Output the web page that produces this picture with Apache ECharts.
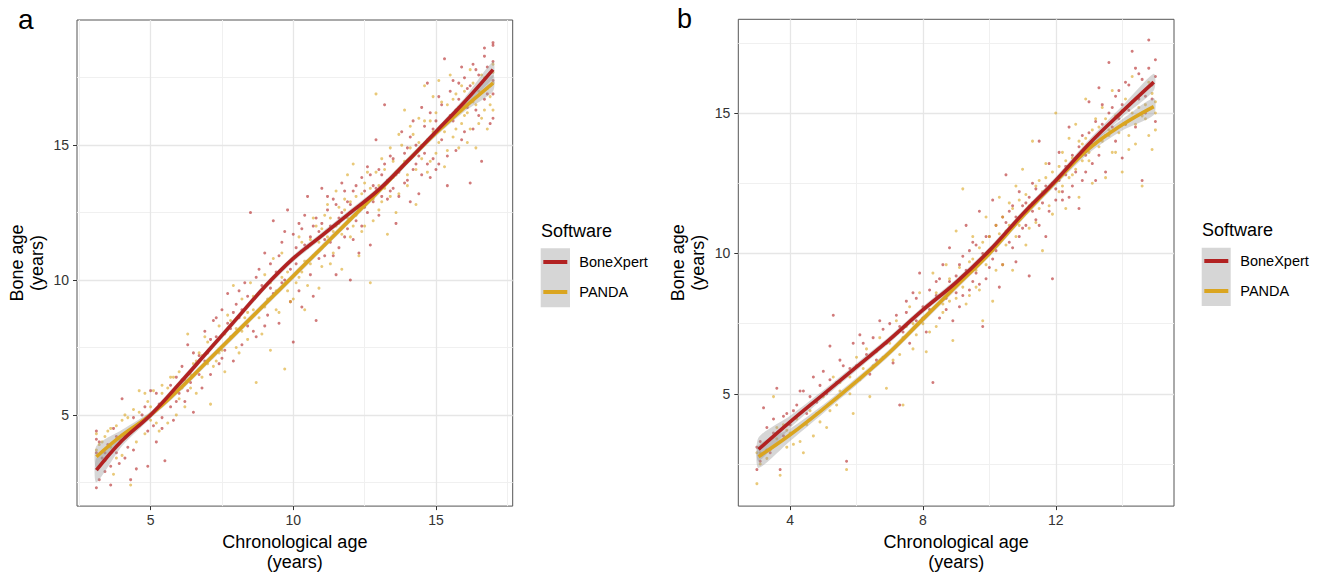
<!DOCTYPE html>
<html>
<head>
<meta charset="utf-8">
<script src="https://cdn.jsdelivr.net/npm/echarts@6/dist/echarts.min.js"></script>
<style>
html,body{margin:0;padding:0;background:#fff;}
#chart{width:1324px;height:577px;}
</style>
</head>
<body>
<div id="chart"></div>
<script>
// ---------- DATA ----------
const seriesNames = ['BoneXpert', 'PANDA'];
const panelLabels = ['a', 'b'];
const legendTitle = 'Software';
const xAxisTitle = 'Chronological age\n(years)';
const yAxisTitle = 'Bone age\n(years)';

// Panel a ticks
const aXTicks = [5, 10, 15];
const aXMinor = [2.5, 7.5, 12.5, 17.5];
const aYTicks = [5, 10, 15];
const aYMinor = [2.5, 7.5, 12.5, 17.5];
// Panel b ticks
const bXTicks = [4, 8, 12];
const bXMinor = [6, 10, 14];
const bYTicks = [5, 10, 15];
const bYMinor = [2.5, 7.5, 12.5, 17.5];

// Panel a scatter points [chronological age, bone age]
const aBoneXpertPts = [[3.1,2.3],[3.1,4.4],[3.1,4.1],[3.2,2.6],[3.3,3.4],[3.4,2.9],[3.5,3.9],[3.6,2.4],[3.7,4.5],[3.8,3.6],[3.9,3.2],[4.0,5.6],[4.1,4.2],[4.2,3.8],[4.3,2.6],[4.4,4.9],[4.5,3.0],[4.6,4.6],[4.8,5.3],[4.9,4.4],[5.0,5.9],[5.1,4.6],[5.2,4.0],[5.3,5.4],[5.4,4.9],[5.5,3.3],[5.6,5.6],[5.7,6.1],[5.8,4.8],[5.9,6.4],[6.0,5.8],[6.1,6.8],[6.2,5.5],[6.3,7.6],[6.4,6.2],[6.5,5.1],[6.6,6.9],[6.7,7.2],[6.8,6.0],[6.9,8.1],[7.0,7.3],[7.1,6.5],[7.2,8.5],[7.3,7.9],[7.4,6.9],[7.5,8.9],[7.6,7.4],[7.7,9.5],[7.8,8.2],[7.9,7.0],[8.0,9.1],[8.1,8.6],[8.2,7.6],[8.3,9.9],[8.4,8.3],[8.5,12.5],[8.6,9.3],[8.7,7.9],[8.8,10.4],[8.9,9.0],[9.0,11.0],[9.1,8.7],[9.2,9.7],[9.3,12.2],[9.4,10.3],[9.5,8.4],[9.6,11.4],[9.7,10.0],[9.8,12.6],[9.9,9.2],[10.0,11.7],[10.0,7.7],[10.1,10.6],[10.2,12.1],[10.3,9.0],[10.4,11.3],[10.5,13.1],[10.6,10.2],[10.7,12.0],[10.8,8.5],[10.9,11.8],[11.0,13.4],[11.1,10.9],[11.2,12.6],[11.3,11.4],[11.4,13.0],[11.5,10.2],[11.6,12.3],[11.7,13.6],[11.8,11.6],[11.9,12.9],[12.0,10.0],[12.1,13.3],[12.2,12.2],[12.3,11.0],[12.4,13.8],[12.5,12.7],[12.6,14.2],[12.7,11.3],[12.8,13.5],[12.9,15.2],[13.0,12.4],[13.1,13.9],[13.2,16.5],[13.3,13.0],[13.4,14.6],[13.5,13.4],[13.6,12.1],[13.7,14.0],[13.8,15.5],[13.9,13.6],[14.0,14.9],[14.1,12.9],[14.2,15.9],[14.3,14.3],[14.4,13.2],[14.5,16.4],[14.6,14.7],[14.7,17.3],[14.8,13.8],[14.9,15.6],[15.0,14.1],[15.1,16.8],[15.2,15.2],[15.3,18.2],[15.4,13.5],[15.5,16.1],[15.6,17.4],[15.7,14.8],[15.8,16.7],[15.9,17.9],[16.0,15.5],[16.1,17.1],[16.2,13.6],[16.3,18.0],[16.4,16.3],[16.5,17.6],[16.6,14.4],[16.7,18.3],[16.8,16.9],[16.9,15.8],[17.0,18.7],[17.0,16.0],[17.0,17.4],
  [3.1,3.6],[3.2,4.0],[3.4,3.6],[3.6,3.1],[3.8,4.2],[4.1,3.4],[4.4,3.7],[4.7,5.0],[4.9,3.1],[5.2,5.8],[5.4,4.5],[5.7,5.3],[5.9,5.5],[6.1,6.3],[6.3,5.9],[6.5,7.3],[6.7,6.5],[6.9,7.0],[7.1,7.8],[7.3,8.6],[7.5,7.1],[7.7,8.4],[7.9,8.8],[8.1,9.6],[8.2,8.9],[8.4,9.4],[8.6,8.1],[8.7,10.1],[8.9,9.8],[9.0,8.3],[9.2,10.6],[9.3,9.5],[9.5,10.9],[9.6,9.9],[9.7,11.8],[9.9,10.4],[10.1,11.2],[10.2,9.6],[10.3,11.9],[10.4,12.4],[10.5,10.7],[10.6,11.6],[10.7,9.4],[10.8,12.3],[10.9,10.8],[11.0,12.1],[11.1,11.5],[11.2,13.1],[11.3,12.0],[11.4,10.9],[11.5,12.8],[11.6,11.2],[11.7,12.5],[11.8,13.3],[11.9,11.9],[12.0,12.8],[12.1,11.5],[12.2,13.5],[12.3,12.6],[12.4,12.0],[12.5,13.3],[12.6,12.5],[12.7,13.9],[12.8,12.9],[12.9,13.4],[13.0,14.1],[13.1,13.1],[13.2,14.3],[13.3,13.7],[13.4,13.3],[13.5,14.5],[13.6,13.9],[13.7,13.1],[13.8,14.2],[13.9,14.7],[14.0,13.7],[14.1,15.3],[14.2,14.1],[14.3,15.0],[14.4,14.6],[14.5,13.9],[14.6,15.7],[14.7,14.3],[14.8,16.2],[14.9,14.5],[15.0,15.9],[15.1,14.3],[15.2,16.5],[15.3,15.8],[15.4,14.6],[15.5,17.0],[15.6,15.9],[15.7,16.3],[15.8,17.3],[15.9,15.2],[16.0,17.5],[16.1,16.4],[16.2,17.2],[16.3,15.6],[16.4,17.8],[16.5,16.1],[16.6,17.3],[16.7,16.7],[16.8,17.9],[16.9,17.2],[17.0,16.9],[17.0,18.1],[16.7,18.6],[17.0,18.8]];
const aPandaPts = [[3.1,3.7],[3.1,4.3],[3.2,3.1],[3.3,4.0],[3.4,3.3],[3.5,4.4],[3.6,3.8],[3.7,2.8],[3.8,4.6],[3.9,4.1],[4.0,3.5],[4.1,5.0],[4.2,4.4],[4.3,2.4],[4.4,5.2],[4.5,4.0],[4.6,5.9],[4.7,4.7],[4.8,4.3],[4.9,5.5],[5.0,4.8],[5.1,5.9],[5.2,5.2],[5.3,4.4],[5.4,6.1],[5.5,5.5],[5.6,4.7],[5.7,6.4],[5.8,5.9],[5.9,5.0],[6.0,6.6],[6.1,6.0],[6.2,5.3],[6.3,8.0],[6.4,6.5],[6.5,6.9],[6.6,5.8],[6.7,7.3],[6.8,6.4],[6.9,7.9],[7.0,6.9],[7.1,5.4],[7.2,7.6],[7.3,7.0],[7.4,8.3],[7.5,7.4],[7.6,6.6],[7.7,8.7],[7.8,7.9],[7.9,9.8],[8.0,8.2],[8.1,7.3],[8.2,9.3],[8.3,8.6],[8.4,7.8],[8.5,9.9],[8.6,8.9],[8.7,6.2],[8.8,9.5],[8.9,8.0],[9.0,10.2],[9.1,9.3],[9.2,7.4],[9.3,10.8],[9.4,9.6],[9.5,8.8],[9.6,11.0],[9.7,6.7],[9.8,10.3],[9.9,9.2],[10.0,10.8],[10.1,9.9],[10.2,11.6],[10.3,10.3],[10.4,8.9],[10.5,11.2],[10.6,10.6],[10.7,12.3],[10.8,11.0],[10.9,9.7],[11.0,11.9],[11.1,11.3],[11.2,12.8],[11.3,10.6],[11.4,11.8],[11.5,13.3],[11.6,12.1],[11.7,10.4],[11.8,12.6],[11.9,13.9],[12.0,11.6],[12.1,14.3],[12.2,12.4],[12.3,10.9],[12.4,13.2],[12.5,12.0],[12.6,14.0],[12.7,9.9],[12.8,13.0],[12.9,16.9],[13.0,12.6],[13.1,14.5],[13.2,13.4],[13.3,11.7],[13.4,14.9],[13.5,13.8],[13.6,12.5],[13.7,15.4],[13.8,14.2],[13.9,16.3],[14.0,13.5],[14.1,15.7],[14.2,14.6],[14.3,12.8],[14.4,16.0],[14.5,15.0],[14.6,17.2],[14.7,14.0],[14.8,15.9],[14.9,16.8],[15.0,14.7],[15.1,17.4],[15.2,15.7],[15.3,14.2],[15.4,16.5],[15.5,17.6],[15.6,15.3],[15.7,16.9],[15.8,14.9],[15.9,17.2],[16.0,16.1],[16.1,15.1],[16.2,17.8],[16.3,16.6],[16.4,14.9],[16.5,17.0],[16.6,16.0],[16.7,17.5],[16.8,15.6],[16.9,16.8],[17.0,17.3],[17.0,16.3],[17.0,18.0],
  [3.2,3.9],[3.4,4.2],[3.6,4.5],[3.8,3.4],[4.0,4.8],[4.2,4.9],[4.4,4.5],[4.6,5.1],[4.8,5.8],[5.0,5.3],[5.2,4.7],[5.4,5.8],[5.6,6.0],[5.8,6.4],[6.0,5.6],[6.2,6.3],[6.4,6.0],[6.6,7.0],[6.8,7.2],[7.0,7.7],[7.2,6.8],[7.4,7.3],[7.6,8.0],[7.8,8.5],[8.0,7.5],[8.2,8.1],[8.4,8.8],[8.6,9.4],[8.8,8.6],[9.0,9.0],[9.2,9.9],[9.4,8.9],[9.6,10.1],[9.8,9.6],[10.0,9.3],[10.1,10.9],[10.2,10.1],[10.3,11.4],[10.4,10.7],[10.5,9.8],[10.6,11.5],[10.7,10.9],[10.8,12.0],[10.9,11.4],[11.0,10.5],[11.1,12.4],[11.2,11.6],[11.3,12.3],[11.4,11.0],[11.5,12.0],[11.6,12.7],[11.7,11.7],[11.8,13.0],[11.9,12.3],[12.0,12.9],[12.1,12.0],[12.2,13.1],[12.3,12.6],[12.4,11.8],[12.5,13.6],[12.6,12.9],[12.7,13.4],[12.8,12.2],[12.9,14.0],[13.0,13.5],[13.1,12.9],[13.2,14.1],[13.3,13.6],[13.4,13.1],[13.5,14.4],[13.6,14.0],[13.7,13.2],[13.8,15.0],[13.9,14.4],[14.0,13.9],[14.1,14.9],[14.2,15.4],[14.3,14.1],[14.4,15.1],[14.5,14.5],[14.6,15.9],[14.7,15.2],[14.8,14.4],[14.9,15.5],[15.0,16.2],[15.1,15.1],[15.2,16.6],[15.3,15.5],[15.4,14.8],[15.5,16.0],[15.6,16.7],[15.7,15.6],[15.8,16.4],[15.9,15.8],[16.0,17.0],[16.1,16.2],[16.2,15.6],[16.3,17.3],[16.4,16.5],[16.5,15.8],[16.6,17.6],[16.7,16.3],[16.8,17.1],[16.9,16.5],[17.0,17.7]];

// Panel b scatter points
const bBoneXpertPts = [[3.0,2.3],[3.0,3.1],[3.1,2.6],[3.2,4.5],[3.3,3.8],[3.4,2.9],[3.5,4.1],[3.6,5.2],[3.7,2.3],[3.8,3.5],[3.9,4.3],[4.0,3.9],[4.2,4.6],[4.4,5.1],[4.5,4.3],[4.7,5.6],[4.8,4.7],[5.0,5.8],[5.1,5.0],[5.2,6.7],[5.3,7.8],[5.4,5.4],[5.5,6.2],[5.7,2.6],[5.8,5.9],[5.9,6.8],[6.0,6.0],[6.1,7.1],[6.3,6.4],[6.4,5.7],[6.5,7.0],[6.6,6.2],[6.7,7.6],[6.9,6.8],[7.0,7.5],[7.1,6.1],[7.2,7.8],[7.3,4.6],[7.4,7.2],[7.5,8.3],[7.6,6.8],[7.7,8.6],[7.8,7.6],[7.9,9.3],[8.0,8.1],[8.1,7.2],[8.2,8.7],[8.3,5.4],[8.4,9.0],[8.5,7.7],[8.6,9.6],[8.7,8.4],[8.8,10.2],[8.9,7.6],[9.0,9.2],[9.1,8.1],[9.2,9.9],[9.3,11.0],[9.4,8.7],[9.5,10.4],[9.6,9.3],[9.7,11.5],[9.8,7.4],[9.9,10.6],[10.0,9.5],[10.1,11.9],[10.2,10.1],[10.3,8.8],[10.4,11.3],[10.5,12.8],[10.6,10.4],[10.7,11.7],[10.8,9.7],[10.9,12.2],[11.0,10.9],[11.1,11.8],[11.2,9.2],[11.3,12.5],[11.4,11.2],[11.5,14.0],[11.6,12.1],[11.7,10.6],[11.8,13.2],[11.9,9.1],[12.0,12.3],[12.1,13.6],[12.2,11.9],[12.3,12.8],[12.4,14.5],[12.5,12.4],[12.6,13.4],[12.7,11.6],[12.8,14.2],[12.9,12.9],[13.0,15.4],[13.1,13.9],[13.2,12.6],[13.3,15.9],[13.4,14.6],[13.5,12.9],[13.6,16.8],[13.7,15.2],[13.8,14.0],[13.9,15.8],[14.0,13.4],[14.1,16.1],[14.2,15.1],[14.3,17.2],[14.4,14.5],[14.5,16.4],[14.6,12.6],[14.7,15.6],[14.8,17.6],[14.9,16.0],[15.0,14.7],[15.0,16.9],
  [3.1,3.3],[3.3,3.0],[3.5,3.6],[3.8,4.2],[4.1,4.4],[4.3,5.1],[4.6,4.9],[4.9,5.3],[5.2,5.5],[5.6,6.0],[6.2,6.8],[6.8,7.3],[7.3,7.4],[7.5,7.9],[7.8,8.4],[8.0,7.7],[8.2,8.0],[8.4,8.5],[8.5,9.1],[8.7,8.0],[8.8,9.0],[9.0,8.6],[9.1,9.6],[9.2,8.5],[9.3,9.4],[9.4,10.1],[9.5,9.0],[9.6,10.3],[9.7,8.9],[9.8,10.0],[9.9,9.1],[10.0,10.6],[10.1,9.8],[10.2,11.0],[10.3,10.4],[10.4,9.6],[10.5,11.1],[10.6,11.5],[10.7,10.2],[10.8,11.3],[10.9,10.6],[11.0,11.7],[11.1,11.0],[11.2,12.0],[11.3,11.5],[11.4,12.3],[11.5,11.0],[11.6,11.8],[11.7,12.4],[11.8,11.5],[11.9,12.5],[12.0,11.9],[12.1,12.6],[12.2,12.2],[12.3,13.1],[12.4,12.0],[12.5,13.5],[12.6,12.9],[12.7,13.8],[12.8,12.6],[12.9,13.5],[13.0,14.3],[13.1,13.2],[13.2,14.7],[13.3,13.5],[13.4,15.3],[13.5,14.2],[13.6,15.0],[13.7,14.5],[13.8,15.6],[13.9,14.8],[14.0,15.3],[14.1,14.6],[14.2,16.0],[14.3,15.4],[14.4,16.6],[14.5,15.5],[14.6,16.2],[14.7,15.0],[14.8,16.6],[14.9,15.5],[15.0,16.3]];
const bPandaPts = [[3.0,1.8],[3.0,2.9],[3.1,2.5],[3.2,3.2],[3.3,2.7],[3.5,4.9],[3.6,3.4],[3.7,2.1],[3.8,3.9],[3.9,3.1],[4.0,3.6],[4.2,4.1],[4.3,3.3],[4.4,2.9],[4.6,4.4],[4.7,3.5],[4.9,4.0],[5.0,4.9],[5.1,3.8],[5.3,5.6],[5.4,4.6],[5.5,5.1],[5.7,2.3],[5.8,5.6],[5.9,4.3],[6.0,6.3],[6.1,5.5],[6.3,6.6],[6.4,4.9],[6.5,6.0],[6.7,7.0],[6.8,6.3],[6.9,5.2],[7.0,6.8],[7.2,7.6],[7.3,6.4],[7.4,4.6],[7.5,7.4],[7.6,8.1],[7.7,6.6],[7.8,7.1],[7.9,8.6],[8.0,7.5],[8.1,6.5],[8.2,8.2],[8.3,9.3],[8.4,7.4],[8.5,8.5],[8.6,7.9],[8.7,9.6],[8.8,8.3],[8.9,6.9],[9.0,10.8],[9.1,9.0],[9.2,12.3],[9.3,8.2],[9.4,9.7],[9.5,10.6],[9.6,8.8],[9.7,10.2],[9.8,7.6],[9.9,11.3],[10.0,10.0],[10.1,8.3],[10.2,11.0],[10.3,12.0],[10.4,9.6],[10.5,10.8],[10.6,11.8],[10.7,9.4],[10.8,12.4],[10.9,11.0],[11.0,13.0],[11.1,10.3],[11.2,11.7],[11.3,14.0],[11.4,11.1],[11.5,12.6],[11.6,10.1],[11.7,13.2],[11.8,11.7],[11.9,12.9],[12.0,15.0],[12.1,12.2],[12.2,13.6],[12.3,11.6],[12.4,14.1],[12.5,12.8],[12.6,14.6],[12.7,12.0],[12.8,13.9],[12.9,15.5],[13.0,13.3],[13.1,12.5],[13.2,14.8],[13.3,13.8],[13.4,15.2],[13.5,12.7],[13.6,14.4],[13.7,15.8],[13.8,13.6],[13.9,14.9],[14.0,12.9],[14.1,15.5],[14.2,14.2],[14.3,16.3],[14.4,13.9],[14.5,15.2],[14.6,12.4],[14.7,14.8],[14.8,16.1],[14.9,13.7],[15.0,15.4],[15.0,14.4],
  [3.1,2.9],[3.4,3.0],[3.6,3.8],[3.9,3.7],[4.1,3.2],[4.5,3.9],[4.8,4.3],[5.2,4.4],[5.5,5.4],[5.8,5.0],[6.2,5.9],[6.6,6.5],[7.1,6.2],[7.4,7.0],[7.7,7.5],[8.0,8.0],[8.2,7.2],[8.4,8.6],[8.6,8.2],[8.8,9.1],[9.0,8.4],[9.1,9.5],[9.2,8.8],[9.3,9.3],[9.4,8.5],[9.5,9.8],[9.6,9.4],[9.7,8.7],[9.8,10.4],[9.9,9.6],[10.0,10.6],[10.1,10.1],[10.2,9.4],[10.3,10.7],[10.4,11.3],[10.5,10.3],[10.6,11.0],[10.7,11.6],[10.8,10.6],[10.9,11.9],[11.0,11.4],[11.1,12.1],[11.2,10.9],[11.3,11.8],[11.4,12.4],[11.5,11.6],[11.6,12.2],[11.7,12.7],[11.8,12.3],[11.9,11.4],[12.0,12.6],[12.1,13.1],[12.2,12.4],[12.3,13.3],[12.4,12.7],[12.5,13.4],[12.6,13.0],[12.7,14.0],[12.8,13.3],[12.9,14.1],[13.0,13.6],[13.1,14.4],[13.2,13.9],[13.3,14.5],[13.4,14.0],[13.5,14.8],[13.6,14.2],[13.7,13.6],[13.8,14.9],[13.9,14.3],[14.0,15.1],[14.1,14.6],[14.2,13.7],[14.3,15.0],[14.4,14.6],[14.5,15.6],[14.6,14.9],[14.7,15.3],[14.8,14.2],[14.9,15.7],[15.0,15.0]];

// Smoothed fits with confidence band
const aFitX = [3.1, 4, 5, 6, 7, 8, 9, 10, 11, 12, 13, 14, 15, 16, 17];
const aBoneXpertFit = [2.95, 4.05, 5.0, 6.15, 7.35, 8.55, 9.75, 10.8, 11.65, 12.5, 13.35, 14.4, 15.5, 16.6, 17.8];
const aBoneXpertLo  = [2.5, 3.85, 4.88, 6.03, 7.23, 8.43, 9.63, 10.68, 11.53, 12.38, 13.23, 14.28, 15.38, 16.45, 17.5];
const aBoneXpertHi  = [3.4, 4.25, 5.12, 6.27, 7.47, 8.67, 9.87, 10.92, 11.77, 12.62, 13.47, 14.52, 15.62, 16.75, 18.1];
const aPandaFit = [3.45, 4.25, 5.0, 5.95, 7.0, 8.05, 9.1, 10.15, 11.2, 12.25, 13.3, 14.4, 15.45, 16.4, 17.3];
const aPandaLo  = [3.05, 4.05, 4.88, 5.83, 6.88, 7.93, 8.98, 10.03, 11.08, 12.13, 13.18, 14.28, 15.33, 16.25, 17.0];
const aPandaHi  = [3.85, 4.45, 5.12, 6.07, 7.12, 8.17, 9.22, 10.27, 11.32, 12.37, 13.42, 14.52, 15.57, 16.55, 17.6];

const bFitX = [3.05, 4, 5, 6, 7, 8, 9, 10, 11, 12, 13, 14, 14.95];
const bBoneXpertFit = [3.02, 4.0, 4.98, 5.96, 6.94, 7.99, 8.97, 10.1, 11.4, 12.6, 13.9, 15.05, 16.1];
const bBoneXpertLo  = [2.6, 3.78, 4.83, 5.83, 6.82, 7.87, 8.85, 9.98, 11.28, 12.47, 13.75, 14.85, 15.8];
const bBoneXpertHi  = [3.44, 4.22, 5.13, 6.09, 7.06, 8.11, 9.09, 10.22, 11.52, 12.73, 14.05, 15.25, 16.4];
const bPandaFit = [2.76, 3.54, 4.46, 5.44, 6.48, 7.66, 8.83, 10.0, 11.32, 12.56, 13.73, 14.58, 15.23];
const bPandaLo  = [2.36, 3.32, 4.31, 5.31, 6.36, 7.54, 8.71, 9.88, 11.2, 12.43, 13.58, 14.38, 14.93];
const bPandaHi  = [3.16, 3.76, 4.61, 5.57, 6.6, 7.78, 8.95, 10.12, 11.44, 12.69, 13.88, 14.78, 15.53];

// ---------- CHART ----------
const RED = '#B22222', GOLD = '#DAA520';
const FONT = '"Liberation Sans", Arial, Helvetica, sans-serif';
const chart = echarts.init(document.getElementById('chart'), null, {renderer: 'svg'});

const zip = (xs, ys) => xs.map((x, i) => [x, ys[i]]);

function mainAxis(dim, idx, min, max, ticks, name, gap) {
  return {
    type: 'value', gridIndex: idx, min: min, max: max,
    name: name, nameLocation: 'middle', nameGap: gap,
    nameTextStyle: {fontSize: 18, lineHeight: 20, color: '#000', fontFamily: FONT},
    axisLine: {show: false},
    axisTick: {show: true, length: 4, lineStyle: {color: '#333', width: 1}, customValues: ticks},
    axisLabel: {show: true, fontSize: 14, color: '#333', fontFamily: FONT, margin: dim === 'x' ? 7 : 8, customValues: ticks},
    splitLine: {show: true, lineStyle: {color: '#e6e6e6', width: 1.3}},
    z: 1
  };
}
function minorAxis(idx, min, max, ticks) {
  return {
    type: 'value', gridIndex: idx, min: min, max: max,
    axisLine: {show: false}, axisLabel: {show: false},
    axisTick: {show: false, customValues: ticks},
    splitLine: {show: true, lineStyle: {color: '#f0f0f0', width: 1}},
    z: 0
  };
}

function band(xi, yi, xs, lo, hi) {
  return {
    type: 'custom', xAxisIndex: xi, yAxisIndex: yi, silent: true, z: 3,
    data: [[xs[0], lo[0]]],
    renderItem: function (params, api) {
      const pts = [];
      for (let i = 0; i < xs.length; i++) pts.push(api.coord([xs[i], hi[i]]));
      for (let i = xs.length - 1; i >= 0; i--) pts.push(api.coord([xs[i], lo[i]]));
      return {type: 'polygon', shape: {points: pts, smooth: 0.25},
              style: {fill: 'rgba(153,153,153,0.4)', stroke: null}};
    }
  };
}
function pts(name, xi, yi, data, color) {
  return {type: 'scatter', name: name, xAxisIndex: xi, yAxisIndex: yi, data: data,
          symbolSize: 3, itemStyle: {color: color, opacity: 0.6}, z: 2, silent: true};
}
function fit(name, xi, yi, xs, ys, color) {
  return {type: 'line', name: name, xAxisIndex: xi, yAxisIndex: yi, data: zip(xs, ys),
          smooth: 0.4, showSymbol: false, symbol: 'none',
          lineStyle: {color: color, width: 3.6}, itemStyle: {color: color}, z: 4, silent: true};
}

function legend(left, top) {
  return {
    left: left, top: top, orient: 'vertical', icon: 'rect', padding: 0,
    itemWidth: 24, itemHeight: 4, itemGap: 15, selectedMode: false,
    textStyle: {fontSize: 14.5, color: '#000', fontFamily: FONT, padding: [0, 0, 0, 7]},
    data: [
      {name: seriesNames[0], icon: 'rect', itemStyle: {color: RED, opacity: 1}},
      {name: seriesNames[1], icon: 'rect', itemStyle: {color: GOLD, opacity: 1}}
    ]
  };
}

const option = {
  backgroundColor: '#fff',
  animation: false,
  title: [
    {text: panelLabels[0], left: 18, top: 5, padding: 0, textStyle: {fontSize: 28, fontWeight: 'normal', color: '#000', fontFamily: FONT}},
    {text: panelLabels[1], left: 677, top: 5, padding: 0, textStyle: {fontSize: 27, fontWeight: 'normal', color: '#000', fontFamily: FONT}},
    {text: legendTitle, left: 541, top: 222, padding: 0, textStyle: {fontSize: 18, fontWeight: 'normal', color: '#000', fontFamily: FONT}},
    {text: legendTitle, left: 1202, top: 221, padding: 0, textStyle: {fontSize: 18, fontWeight: 'normal', color: '#000', fontFamily: FONT}}
  ],
  graphic: [
    {type: 'rect', left: 540.7, top: 248.3, shape: {width: 29.3, height: 59}, style: {fill: '#d6d6d6'}, z: -1},
    {type: 'rect', left: 1201.7, top: 247.7, shape: {width: 29, height: 58.3}, style: {fill: '#d6d6d6'}, z: -1}
  ],
  legend: [legend(543.3, 254.5), legend(1204.3, 253.5)],
  grid: [
    {left: 77, right: 811.3, top: 20, bottom: 68.7, show: true, borderColor: '#555', borderWidth: 1, backgroundColor: 'transparent'},
    {left: 738.3, right: 150, top: 19.3, bottom: 69.3, show: true, borderColor: '#555', borderWidth: 1, backgroundColor: 'transparent'}
  ],
  xAxis: [
    mainAxis('x', 0, 2.42, 17.69, aXTicks, xAxisTitle, 24),
    minorAxis(0, 2.42, 17.69, aXMinor),
    mainAxis('x', 1, 2.44, 15.56, bXTicks, xAxisTitle, 24),
    minorAxis(1, 2.44, 15.56, bXMinor)
  ],
  yAxis: [
    mainAxis('y', 0, 1.62, 19.64, aYTicks, yAxisTitle, 30),
    minorAxis(0, 1.62, 19.64, aYMinor),
    mainAxis('y', 1, 1.0, 18.34, bYTicks, yAxisTitle, 30),
    minorAxis(1, 1.0, 18.34, bYMinor)
  ],
  series: [
    pts(seriesNames[0], 0, 0, aBoneXpertPts, RED),
    pts(seriesNames[1], 0, 0, aPandaPts, GOLD),
    band(0, 0, aFitX, aBoneXpertLo, aBoneXpertHi),
    band(0, 0, aFitX, aPandaLo, aPandaHi),
    fit(seriesNames[1], 0, 0, aFitX, aPandaFit, GOLD),
    fit(seriesNames[0], 0, 0, aFitX, aBoneXpertFit, RED),
    pts(seriesNames[0], 2, 2, bBoneXpertPts, RED),
    pts(seriesNames[1], 2, 2, bPandaPts, GOLD),
    band(2, 2, bFitX, bBoneXpertLo, bBoneXpertHi),
    band(2, 2, bFitX, bPandaLo, bPandaHi),
    fit(seriesNames[1], 2, 2, bFitX, bPandaFit, GOLD),
    fit(seriesNames[0], 2, 2, bFitX, bBoneXpertFit, RED)
  ]
};
chart.setOption(option);
</script>
</body>
</html>
